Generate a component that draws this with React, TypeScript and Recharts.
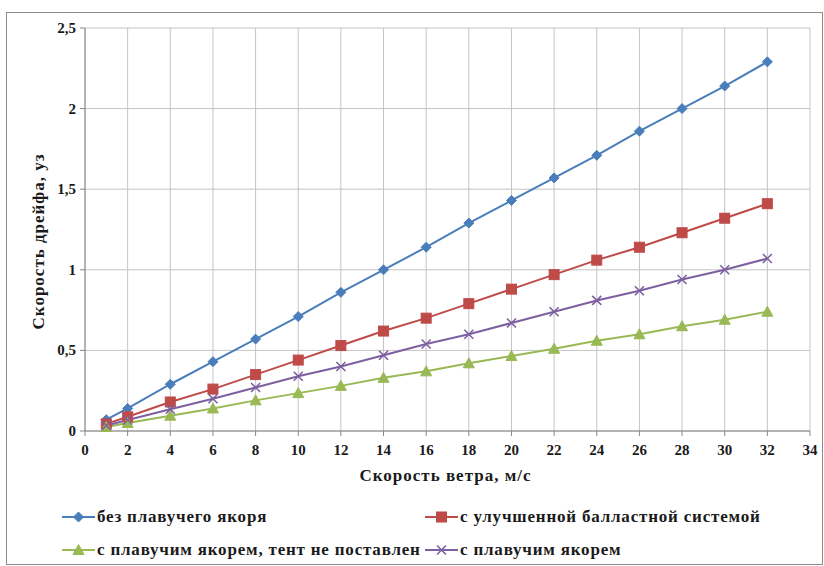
import React from 'react';
import { LineChart, Line, XAxis, YAxis, CartesianGrid, Label } from 'recharts';

const windSpeed = [1, 2, 4, 6, 8, 10, 12, 14, 16, 18, 20, 22, 24, 26, 28, 30, 32];
const noAnchor = [0.07, 0.14, 0.29, 0.43, 0.57, 0.71, 0.86, 1.0, 1.14, 1.29, 1.43, 1.57, 1.71, 1.86, 2.0, 2.14, 2.29];
const ballast = [0.044, 0.088, 0.18, 0.26, 0.35, 0.44, 0.53, 0.62, 0.70, 0.79, 0.88, 0.97, 1.06, 1.14, 1.23, 1.32, 1.41];
const anchorNoTent = [0.025, 0.05, 0.095, 0.14, 0.19, 0.235, 0.28, 0.33, 0.37, 0.42, 0.465, 0.51, 0.56, 0.60, 0.65, 0.69, 0.74];
const anchor = [0.034, 0.068, 0.135, 0.20, 0.27, 0.34, 0.40, 0.47, 0.54, 0.60, 0.67, 0.74, 0.81, 0.87, 0.94, 1.0, 1.07];
const xTicks = [0, 2, 4, 6, 8, 10, 12, 14, 16, 18, 20, 22, 24, 26, 28, 30, 32, 34];
const yTicks = [0, 0.5, 1, 1.5, 2, 2.5];

const seriesNames = [
  'без плавучего якоря',
  'с улучшенной балластной системой',
  'с плавучим якорем, тент не поставлен',
  'с плавучим якорем',
];

const data = windSpeed.map((x, i) => ({
  x,
  s0: noAnchor[i],
  s1: ballast[i],
  s2: anchorNoTent[i],
  s3: anchor[i],
}));

const FONT = "'Liberation Serif', 'Times New Roman', 'DejaVu Serif', serif";
const INK = '#1a1a1a';
const COLORS = ['#4a7ebb', '#be4b48', '#98b954', '#7d60a0'];
const SHAPES = ['diamond', 'square', 'triangle', 'cross'];

function Marker({ shape, color, cx, cy }: { shape: string; color: string; cx: number; cy: number }) {
  if (shape === 'diamond') {
    return <path d={`M${cx},${cy - 5}L${cx + 5},${cy}L${cx},${cy + 5}L${cx - 5},${cy}Z`} fill={color} stroke={color} />;
  }
  if (shape === 'square') {
    return <rect x={cx - 5} y={cy - 5} width={10} height={10} fill={color} stroke={color} />;
  }
  if (shape === 'triangle') {
    return <path d={`M${cx},${cy - 5.5}L${cx + 5.5},${cy + 4.5}L${cx - 5.5},${cy + 4.5}Z`} fill={color} stroke={color} />;
  }
  return (
    <path d={`M${cx - 4.5},${cy - 4.5}L${cx + 4.5},${cy + 4.5}M${cx - 4.5},${cy + 4.5}L${cx + 4.5},${cy - 4.5}`} stroke={color} strokeWidth={1.6} fill="none" />
  );
}

const fmt = (v: number) => String(v).replace('.', ',');

// serif tick text drawn by hand so the font really sticks
function XTick({ x, y, payload }: any) {
  return (
    <text x={x} y={y + 17} textAnchor="middle" fontFamily={FONT} fontWeight="bold" fontSize={15} fill={INK}>
      {payload.value}
    </text>
  );
}

function YTick({ x, y, payload }: any) {
  return (
    <text x={x - 2} y={y + 5} textAnchor="end" fontFamily={FONT} fontWeight="bold" fontSize={15} fill={INK}>
      {fmt(payload.value)}
    </text>
  );
}

function LegendItem({ i, left, top }: { i: number; left: number; top: number }) {
  return (
    <div style={{ position: 'absolute', left, top, display: 'flex', alignItems: 'center', whiteSpace: 'nowrap', height: 20 }}>
      <svg width={33} height={14}>
        <line x1={0} y1={7} x2={33} y2={7} stroke={COLORS[i]} strokeWidth={2} />
        <Marker shape={SHAPES[i]} color={COLORS[i]} cx={16.5} cy={7} />
      </svg>
      <span style={{ marginLeft: 2 }}>{seriesNames[i]}</span>
    </div>
  );
}

export default function App() {
  const labelStyle = { fontSize: 17, fontWeight: 'bold' as const, fill: INK, fontFamily: FONT, letterSpacing: 1 };
  return (
    <div style={{ position: 'absolute', left: 0, top: 0, width: 824, height: 566, background: '#fff' }}>
      <div style={{ position: 'absolute', left: 6, top: 12, width: 815, height: 551, border: '1px solid #8a8a8a' }} />
      <div style={{ position: 'absolute', left: 0, top: 0 }}>
        <LineChart width={824} height={566} data={data} margin={{ top: 28, right: 14, left: 30, bottom: 105 }}>
          <CartesianGrid stroke="#c4c4c4" strokeWidth={1} />
          <XAxis
            dataKey="x"
            type="number"
            domain={[0, 34]}
            ticks={xTicks}
            interval={0}
            height={30}
            tick={<XTick />}
            tickSize={5}
            stroke="#868686"
          >
            <Label
              content={({ viewBox }: any) => (
                <text x={viewBox.x + viewBox.width / 2 - 2} y={viewBox.y + 50} textAnchor="middle" style={labelStyle}>
                  Скорость ветра, м/с
                </text>
              )}
            />
          </XAxis>
          <YAxis
            type="number"
            domain={[0, 2.5]}
            ticks={yTicks}
            interval={0}
            width={55}
            tick={<YTick />}
            tickSize={5}
            stroke="#868686"
          >
            <Label
              content={({ viewBox }: any) => {
                const cx = viewBox.x + 14;
                const cy = viewBox.y + viewBox.height / 2 + 12;
                return (
                  <text x={cx} y={cy} textAnchor="middle" transform={`rotate(-90 ${cx} ${cy})`} style={labelStyle}>
                    Скорость дрейфа, уз
                  </text>
                );
              }}
            />
          </YAxis>
          {[0, 1, 2, 3].map((i) => (
            <Line
              key={i}
              dataKey={`s${i}`}
              name={seriesNames[i]}
              stroke={COLORS[i]}
              strokeWidth={2}
              isAnimationActive={false}
              dot={(p: any) => <Marker key={`${i}-${p.index}`} shape={SHAPES[i]} color={COLORS[i]} cx={p.cx} cy={p.cy} />}
              activeDot={false}
            />
          ))}
        </LineChart>
      </div>
      <div style={{ position: 'absolute', left: 0, top: 0, fontFamily: FONT, fontWeight: 'bold', fontSize: 17, letterSpacing: 0.8, color: INK }}>
        <LegendItem i={0} left={62} top={507} />
        <LegendItem i={1} left={425} top={507} />
        <LegendItem i={2} left={62} top={540} />
        <LegendItem i={3} left={425} top={540} />
      </div>
    </div>
  );
}
